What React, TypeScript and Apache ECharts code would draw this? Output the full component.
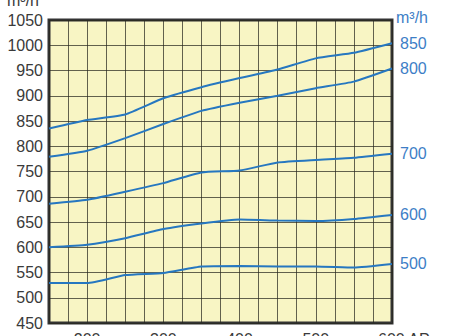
import React, { useEffect, useRef } from "react";
import * as echarts from "echarts";

const pressure = [150, 200, 250, 300, 350, 400, 450, 500, 550, 600];
const q850 = [835, 852, 863, 895, 917, 935, 952, 974, 985, 1004];
const q800 = [779, 791, 816, 844, 870, 886, 900, 915, 928, 954];
const q700 = [686, 694, 710, 727, 748, 752, 768, 773, 777, 785];
const q600 = [600, 605, 618, 636, 647, 655, 653, 652, 656, 664];
const q500 = [529, 529, 545, 549, 562, 563, 562, 562, 560, 567];
const seriesNames = ["850", "800", "700", "600", "500"];
const seriesValues = [q850, q800, q700, q600, q500];
const xLabels = [200, 300, 400, 500];
const xLastLabel = "600 ΔPa";

const BLUE = "#2677c0";
const LABEL_BLUE = "#3d7ec6";
const FONT = "Liberation Sans, Arial, sans-serif";

export default function App() {
  const ref = useRef<HTMLDivElement>(null);
  useEffect(() => {
    if (!ref.current) return;
    const chart = echarts.init(ref.current, null, { renderer: "svg" });
    chart.setOption({
      animation: false,
      grid: {
        left: 49,
        right: 59,
        top: 20,
        bottom: 13,
        containLabel: false,
        outerBoundsMode: "none",
        show: true,
        backgroundColor: "#f8f5c4",
        borderColor: "#333",
        borderWidth: 3,
      },
      xAxis: {
        type: "value",
        min: 150,
        max: 600,
        interval: 25,
        axisLine: { show: false },
        axisTick: { show: false },
        splitLine: { show: true, lineStyle: { color: "rgba(40,40,30,0.72)", width: 1 } },
        axisLabel: {
          margin: 8,
          fontSize: 16,
          fontFamily: FONT,
          color: "#3a3a3a",
          showMinLabel: true,
          showMaxLabel: true,
          formatter: (v: number) => (xLabels.includes(v) ? String(v) : ""),
        },
      },
      yAxis: {
        type: "value",
        min: 450,
        max: 1050,
        interval: 50,
        axisLine: { show: false },
        axisTick: { show: false },
        splitLine: { show: true, lineStyle: { color: "rgba(40,40,30,0.72)", width: 1 } },
        axisLabel: {
          margin: 6,
          fontSize: 16,
          fontFamily: FONT,
          color: "#3a3a3a",
          formatter: (v: number) => String(v),
        },
      },
      series: seriesNames.map((name, i) => ({
        name,
        type: "line",
        data: pressure.map((p, j) => [p, seriesValues[i][j]]),
        showSymbol: false,
        smooth: 0.15,
        lineStyle: { color: BLUE, width: 2 },
        itemStyle: { color: BLUE },
        z: 4,
        endLabel: {
          show: true,
          formatter: "{a}",
          distance: 8,
          fontSize: 16,
          fontFamily: FONT,
          color: LABEL_BLUE,
        },
      })),
      graphic: [
        {
          type: "text",
          left: 7,
          top: -8,
          style: { text: "m³/h", fontSize: 16, fontFamily: FONT, fill: "#3a3a3a" },
        },
        {
          type: "text",
          left: 396,
          top: 9,
          style: { text: "m³/h", fontSize: 16, fontFamily: FONT, fill: LABEL_BLUE },
        },
        {
          type: "text",
          left: 378,
          top: 331,
          style: { text: xLastLabel, fontSize: 16, fontFamily: FONT, fill: "#3a3a3a" },
        },
      ],
    });
    return () => chart.dispose();
  }, []);
  return (
    <div
      ref={ref}
      style={{ position: "fixed", left: 0, top: 0, width: 451, height: 336, background: "#fff" }}
    />
  );
}
